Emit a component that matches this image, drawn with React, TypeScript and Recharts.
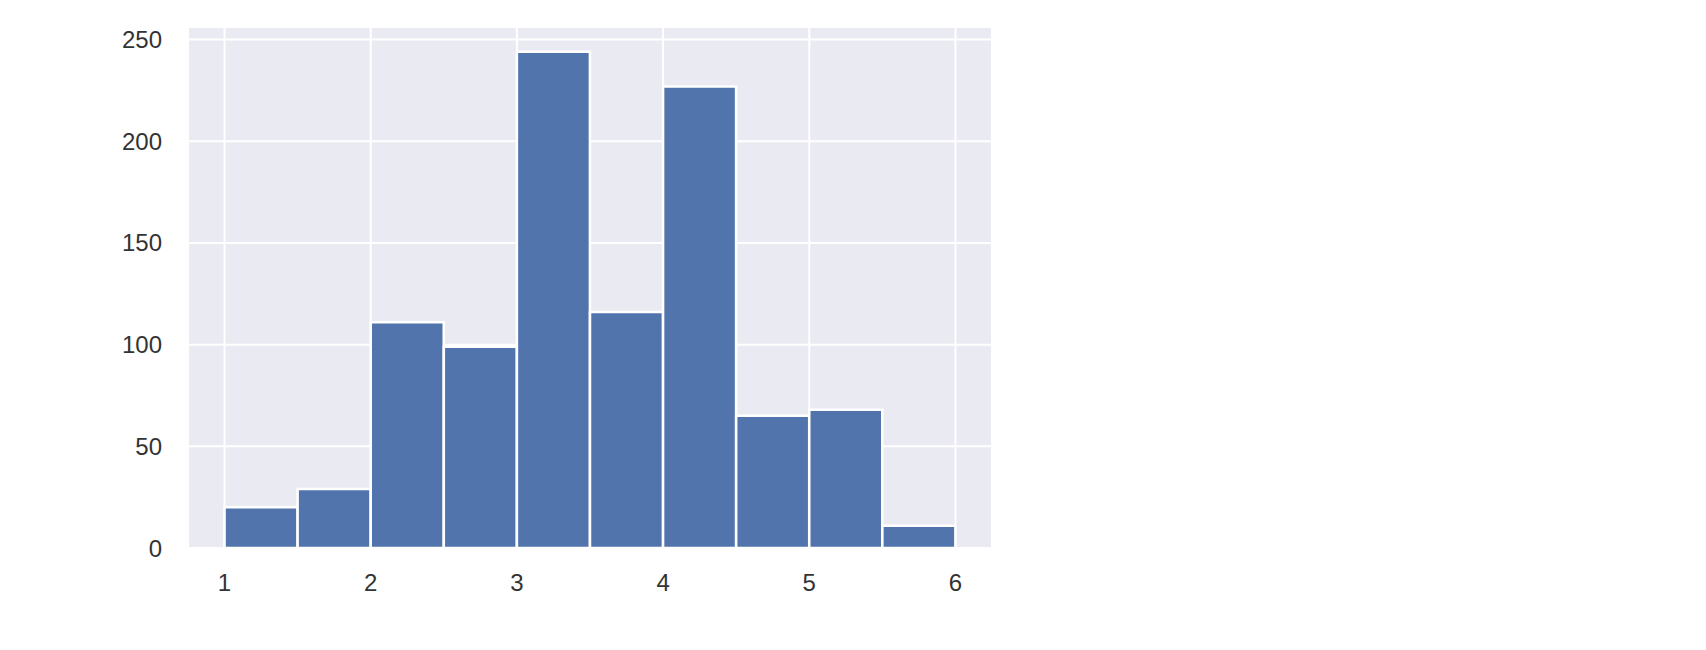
import React from 'react';
import { BarChart, Bar, XAxis, YAxis, CartesianGrid } from 'recharts';

// histogram bins (edges) and counts
const binEdges = [1.0, 1.5, 2.0, 2.5, 3.0, 3.5, 4.0, 4.5, 5.0, 5.5, 6.0];
const counts = [20, 29, 111, 99, 244, 116, 227, 65, 68, 11];
const xTicks = [1, 2, 3, 4, 5, 6];
const yTicks = [0, 50, 100, 150, 200, 250];

const data = counts.map((count, i) => ({
    bin: `${binEdges[i]}–${binEdges[i + 1]}`,
    center: (binEdges[i] + binEdges[i + 1]) / 2,
    count,
}));

const X_DOMAIN: [number, number] = [0.75, 6.25];
const CHART_W = 1000;
const CHART_H = 620;
const MARGIN = { top: 19, right: 16, bottom: 20, left: 0 };
const Y_AXIS_W = 180;
const PLOT_W = CHART_W - MARGIN.left - MARGIN.right - Y_AXIS_W;
// bins span 1..6, axis spans 0.75..6.25 (matplotlib 5% margin)
const PAD = (PLOT_W * (binEdges[0] - X_DOMAIN[0])) / (X_DOMAIN[1] - X_DOMAIN[0]);

const tickStyle = { fill: '#333', fontSize: 24, fontFamily: '"Liberation Sans", Arial, sans-serif' };

const App: React.FC = () => (
    <div style={{ width: CHART_W, height: CHART_H }}>
        <BarChart width={CHART_W} height={CHART_H} data={data} margin={MARGIN} barCategoryGap={0}>
            <CartesianGrid xAxisId="num" fill="#eaeaf2" stroke="#fff" strokeWidth={2} />
            <XAxis xAxisId="bins" dataKey="bin" hide height={0} padding={{ left: PAD, right: PAD }} />
            <XAxis
                xAxisId="num"
                dataKey="center"
                type="number"
                domain={X_DOMAIN}
                allowDataOverflow
                ticks={xTicks}
                axisLine={false}
                tickLine={false}
                tickSize={0}
                tickMargin={26}
                height={60}
                tick={tickStyle}
            />
            <YAxis
                domain={[0, (max: number) => max * 1.05]}
                allowDataOverflow
                ticks={yTicks}
                axisLine={false}
                tickLine={false}
                tickSize={0}
                tickMargin={26}
                width={Y_AXIS_W}
                tick={tickStyle}
            />
            <Bar xAxisId="bins" dataKey="count" fill="#5174ac" stroke="#fff" strokeWidth={2.5} isAnimationActive={false} />
        </BarChart>
    </div>
);

export default App;
